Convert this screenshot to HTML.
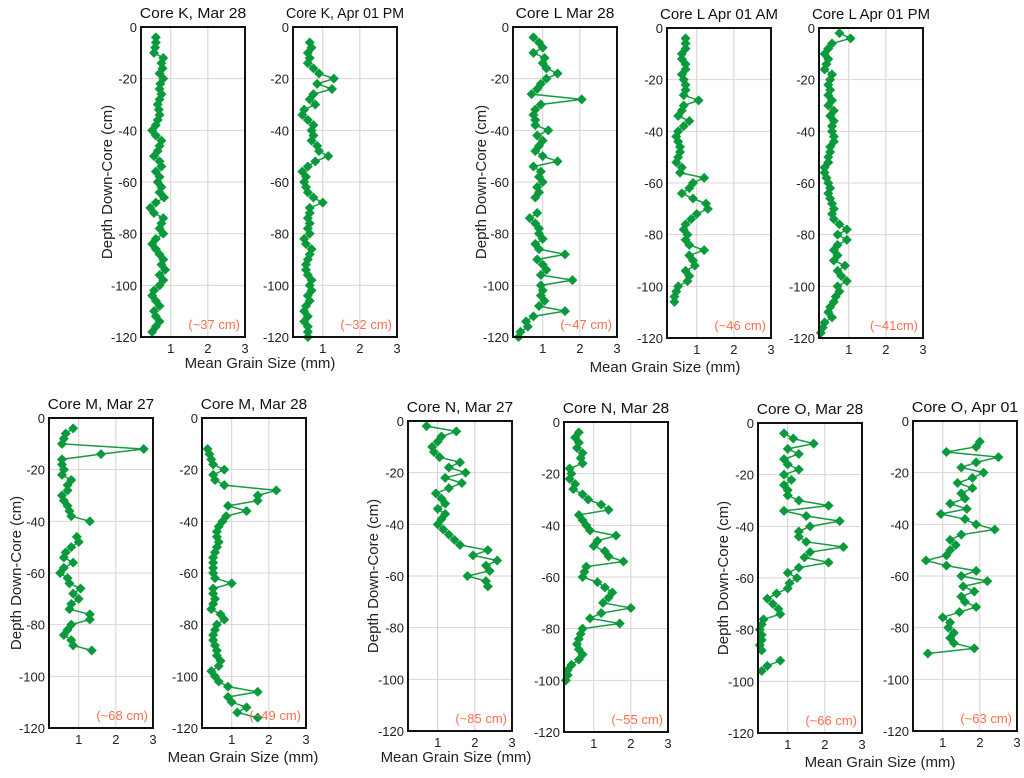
<!DOCTYPE html>
<html><head><meta charset="utf-8"><style>
html,body{margin:0;padding:0;background:#fff;width:1024px;height:778px;overflow:hidden}
svg{display:block;font-family:"Liberation Sans",sans-serif}
</style></head><body>
<svg id="fig" width="1024" height="778" viewBox="0 0 1024 778" xmlns="http://www.w3.org/2000/svg"></svg>
<script>
// shared depth grid (cm below surface)
const depthGrid = [2,4,6,8,10,12,14,16,18,20,22,24,26,28,30,32,34,36,38,40,42,44,46,48,50,52,54,56,58,60,62,64,66,68,70,72,74,76,78,80,82,84,86,88,90,92,94,96,98,100,102,104,106,108,110,112,114,116,118,120];
const xTicks = [1,2,3];
const yTicks = [0,-20,-40,-60,-80,-100,-120];
const _ = null;
const kMar28 = [_,0.6,0.6,0.58,0.55,0.8,0.75,0.78,0.7,0.8,0.72,0.7,0.75,0.7,0.65,0.68,0.7,0.65,0.6,0.5,0.6,0.75,0.7,0.65,0.55,0.7,0.75,0.6,0.7,0.65,0.75,0.7,0.82,0.6,0.45,0.55,0.8,0.75,0.7,0.8,0.6,0.5,0.6,0.7,0.8,0.75,0.85,0.7,0.8,0.7,0.55,0.5,0.6,0.7,0.55,0.6,0.7,0.6,0.5,_];
const kApr01 = [_,_,0.65,0.7,0.6,0.65,0.6,0.75,0.9,1.3,0.85,1.25,0.75,0.65,0.8,0.5,0.45,0.6,0.75,0.7,0.75,0.7,0.85,0.9,1.15,0.8,0.6,0.45,0.55,0.5,0.55,0.6,0.75,1.0,0.65,0.65,0.6,0.65,0.6,0.65,0.5,0.55,0.7,0.65,0.6,0.55,0.55,0.6,0.7,0.65,0.7,0.6,0.65,0.55,0.5,0.6,0.5,0.6,0.6,0.6];
const lMar28 = [_,0.75,0.9,1.0,0.75,1.05,1.0,1.1,1.4,1.1,0.95,0.85,0.7,2.05,0.95,0.8,0.75,0.8,0.8,1.15,0.85,1.0,0.9,0.8,1.0,1.4,0.75,0.95,0.9,1.0,0.85,0.9,0.8,_,_,0.85,0.65,0.8,0.9,0.9,1.0,0.8,0.9,1.6,0.85,1.0,1.1,0.95,1.8,0.95,1.0,0.95,1.05,0.9,1.6,0.75,0.55,0.6,0.4,0.35];
const lApr01AM = [_,0.7,0.7,0.7,0.6,0.6,0.7,0.7,0.6,0.65,0.7,0.7,0.65,1.05,0.65,0.6,0.5,0.8,0.65,0.5,0.45,0.5,0.55,0.55,0.5,0.45,0.6,0.55,1.2,0.9,0.8,0.6,0.9,1.25,1.3,1.0,0.85,0.7,0.65,0.75,0.7,0.8,1.2,0.8,0.9,0.95,0.7,0.8,0.75,0.5,0.45,0.4,0.4,_,_,_,_,_,_,_];
const lApr01PM = [0.75,1.05,0.55,0.45,0.35,0.45,0.4,0.35,0.55,0.5,0.45,0.5,0.45,0.55,0.45,0.6,0.5,0.6,0.55,0.55,0.6,0.6,0.5,0.5,0.45,0.45,0.35,0.35,0.4,0.45,0.5,0.45,0.5,0.55,0.6,0.55,0.6,0.75,0.95,0.7,0.95,0.7,0.6,0.7,0.6,0.9,0.7,0.8,0.95,0.7,0.75,0.65,0.6,0.5,0.45,0.55,0.35,0.3,0.25,_];
const mMar27 = [_,0.85,0.65,0.6,0.55,2.75,1.6,0.55,0.55,0.6,0.55,0.8,0.7,0.7,0.55,0.6,0.7,0.75,0.8,1.3,_,_,0.95,1.0,0.8,0.65,0.6,0.85,0.6,0.5,0.7,0.75,1.05,0.85,1.0,0.8,0.75,1.3,1.3,0.8,0.7,0.6,0.8,0.85,1.35,_,_,_,_,_,_,_,_,_,_,_,_,_,_,_];
const mMar28 = [_,_,_,_,_,0.35,0.4,0.45,0.5,0.8,0.5,0.55,0.8,2.2,1.7,1.7,0.9,1.4,0.85,0.75,0.65,0.6,0.6,0.65,0.6,0.55,0.5,0.5,0.5,0.5,0.55,1.0,0.5,0.5,0.55,0.5,0.45,0.7,0.8,0.6,0.55,0.5,0.5,0.55,0.6,0.6,0.7,0.65,0.45,0.55,0.65,0.9,1.7,0.9,1.0,1.4,1.15,1.7,_,_];
const nMar27 = [0.7,1.5,1.1,1.0,0.85,0.9,1.05,1.6,1.3,1.75,1.2,1.65,1.3,0.95,1.1,1.2,1.0,1.2,1.1,1.0,1.15,1.3,1.45,1.6,2.35,1.95,2.6,2.3,2.4,1.8,2.3,2.35,_,_,_,_,_,_,_,_,_,_,_,_,_,_,_,_,_,_,_,_,_,_,_,_,_,_,_,_];
const nMar28 = [_,0.6,0.5,0.6,0.55,0.7,0.65,0.7,0.35,0.4,0.35,0.5,0.45,0.7,0.85,1.2,1.4,0.6,0.7,0.8,0.9,1.6,1.1,1.0,1.3,1.4,1.8,0.8,0.75,0.7,1.1,1.3,1.5,1.4,1.25,2.0,1.2,0.9,1.7,0.7,0.65,0.6,0.55,0.6,0.7,0.6,0.4,0.3,0.3,0.25,_,_,_,_,_,_,_,_,_,_];
const oMar28 = [_,0.9,1.15,1.7,1.0,1.3,0.9,1.0,1.3,0.9,1.1,0.9,1.0,1.0,1.3,2.1,0.9,1.5,2.4,1.6,1.3,1.3,1.5,2.5,1.6,1.45,2.1,1.3,1.0,1.25,1.05,1.0,0.7,0.45,0.6,0.75,0.8,0.35,0.3,0.25,0.3,0.3,0.25,0.3,_,0.8,0.45,0.3,_,_,_,_,_,_,_,_,_,_,_,_];
const oApr01 = [_,_,_,2.0,1.9,1.1,2.5,1.9,1.5,2.1,1.8,1.4,1.8,1.5,1.6,1.2,1.65,0.95,1.6,1.9,2.4,1.5,1.2,1.35,1.2,1.1,0.55,1.1,1.9,1.5,2.2,1.55,1.85,1.5,1.6,1.9,1.45,1.0,1.2,1.15,1.3,1.2,1.3,1.85,0.6,_,_,_,_,_,_,_,_,_,_,_,_,_,_,_];

const panels = [
 {id:'k-mar28',title:'Core K, Mar 28',vals:kMar28,note:'(~37 cm)',l:141,t:27,yt:107},
 {id:'k-apr01-pm',title:'Core K, Apr 01 PM',vals:kApr01,note:'(~32 cm)',l:293,t:27},
 {id:'l-mar28',title:'Core L Mar 28',vals:lMar28,note:'(~47 cm)',l:513,t:27,yt:481},
 {id:'l-apr01-am',title:'Core L Apr 01 AM',vals:lApr01AM,note:'(~46 cm)',l:667,t:28},
 {id:'l-apr01-pm',title:'Core L Apr 01 PM',vals:lApr01PM,note:'(~41cm)',l:819,t:28},
 {id:'m-mar27',title:'Core M, Mar 27',vals:mMar27,note:'(~68 cm)',l:49,t:418,yt:16},
 {id:'m-mar28',title:'Core M, Mar 28',vals:mMar28,note:'(~49 cm)',l:202,t:418},
 {id:'n-mar27',title:'Core N, Mar 27',vals:nMar27,note:'(~85 cm)',l:408,t:421,yt:373},
 {id:'n-mar28',title:'Core N, Mar 28',vals:nMar28,note:'(~55 cm)',l:564,t:422},
 {id:'o-mar28',title:'Core O, Mar 28',vals:oMar28,note:'(~66 cm)',l:758,t:423,yt:723},
 {id:'o-apr01',title:'Core O, Apr 01',vals:oApr01,note:'(~63 cm)',l:913,t:421}
];
const xTitles = [[260,363],[665,367],[243,757],[456,757],[880,762]];
const W=104,H=310,XMIN=0.2,XMAX=3;
const NS='http://www.w3.org/2000/svg';
const svg=document.getElementById('fig');
function mk(tag,attrs,parent){const e=document.createElementNS(NS,tag);for(const k in attrs)e.setAttribute(k,attrs[k]);(parent||svg).appendChild(e);return e;}

panels.forEach(p=>{
  const g=mk('g',{});
  
  
  const xs=v=>p.l+(v-XMIN)/(XMAX-XMIN)*W;
  const ys=d=>p.t+(d/120)*H;
  xTicks.forEach(v=>{const ln=mk('line',{x1:xs(v),x2:xs(v),y1:p.t,y2:p.t+H,stroke:'#d9cfcf','stroke-width':1},g);
    
    const tx=mk('text',{x:xs(v),y:p.t+H+16,'text-anchor':'middle','font-size':13,fill:'#222'},g);tx.textContent=v;
    });
  yTicks.forEach(v=>{const y=ys(-v);
    if(v!==0&&v!==-120){const ln=mk('line',{x1:p.l,x2:p.l+W,y1:y,y2:y,stroke:'#e3d3d3','stroke-width':1},g);
      }
    const tx=mk('text',{x:p.l-4,y:y+5,'text-anchor':'end','font-size':13,fill:'#222'},g);tx.textContent=v;
    });
  let pts=[];
  const segs=[];
  depthGrid.forEach((d,i)=>{const v=p.vals[i];if(v==null){if(pts.length)segs.push(pts);pts=[];}else pts.push([xs(v),ys(d)]);});
  if(pts.length)segs.push(pts);
  segs.forEach(s=>{const pl=mk('polyline',{points:s.map(q=>q.join(',')).join(' '),fill:'none',stroke:'#179a45','stroke-width':1.5},g);
    });
  depthGrid.forEach((d,i)=>{const v=p.vals[i];if(v==null)return;const x=xs(v),y=ys(d);
    const m=mk('polygon',{points:`${x},${y-5} ${x+5},${y} ${x},${y+5} ${x-5},${y}`,fill:'#0a9a3c'},g);
    });
  const fr=mk('rect',{x:p.l,y:p.t,width:W,height:H,fill:'none',stroke:'#111','stroke-width':2},g);
  
  const ti=mk('text',{x:p.l+W/2,y:p.t-9,'text-anchor':'middle','font-size':15,fill:'#111','textLength':Math.min(118,p.title.length*7.6),'lengthAdjust':'spacingAndGlyphs'},g);ti.textContent=p.title;
  
  const nt=mk('text',{x:p.l+W-5,y:p.t+H-8,'text-anchor':'end','font-size':13,fill:'#ff6e50'},g);nt.textContent=p.note;
  
  if(p.yt){const cy=p.t+H/2;const yt=mk('text',{x:p.yt,y:cy,'text-anchor':'middle','font-size':15,fill:'#222',transform:`rotate(-90 ${p.yt} ${cy})`,dy:5},g);yt.textContent='Depth Down-Core (cm)';
    }
});
xTitles.forEach(c=>{const t=mk('text',{x:c[0],y:c[1]+5,'text-anchor':'middle','font-size':15,fill:'#222'});t.textContent='Mean Grain Size (mm)';
  });
</script>
</body></html>
